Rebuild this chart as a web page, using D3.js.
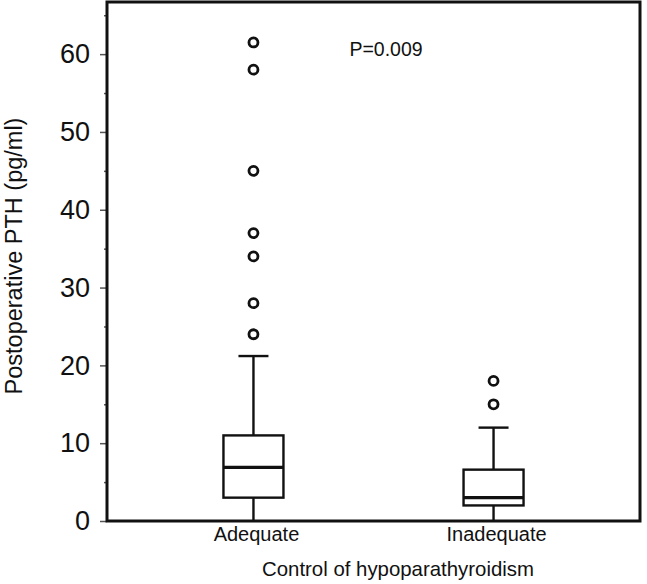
<!DOCTYPE html>
<html>
<head>
<meta charset="utf-8">
<script src="https://cdn.jsdelivr.net/npm/d3@7"></script>
<style>
  body { margin: 0; background: #fff; }
  text { font-family: "Liberation Sans", Arial, sans-serif; fill: #111; }
</style>
</head>
<body>
<div id="chart"></div>
<script>
const width = 647;
const height = 584;
const margin = { top: 2, right: 7, bottom: 63, left: 107 };

// values
const categories = ["Adequate", "Inadequate"];
const whiskerLow = [0, 0];
const q1 = [3.0, 2.0];
const median = [6.9, 3.0];
const q3 = [11.0, 6.6];
const whiskerHigh = [21.2, 12.0];
const outliers = [
    [61.5, 58, 45, 37, 34, 28, 24],
    [18, 15]
];
const majorTicks = [0, 10, 20, 30, 40, 50, 60];
const minorTicks = [5, 15, 25, 35, 45, 55, 65];

const boxes = categories.map((c, i) => ({
    cat: c, lo: whiskerLow[i], q1: q1[i], med: median[i], q3: q3[i], hi: whiskerHigh[i], out: outliers[i]
}));

const svg = d3.select("#chart")
    .append("svg")
    .attr("width", width)
    .attr("height", height);

const x0 = margin.left, x1 = width - margin.right;
const y0 = height - margin.bottom, y1 = margin.top;

const escalaX = d3.scalePoint()
    .domain(categories)
    .range([x0, x1])
    .padding(0.61);

const escalaY = d3.scaleLinear()
    .domain([0, 66.7])
    .range([y0, y1]);

// minor ticks
svg.append("g")
    .attr("transform", `translate(${x0},0)`)
    .call(d3.axisLeft(escalaY).tickValues(minorTicks).tickSize(3).tickFormat(""))
    .call(g => g.select(".domain").remove())
    .call(g => g.selectAll("line").attr("stroke", "#555").attr("stroke-width", 1.5));

// major ticks
svg.append("g")
    .attr("transform", `translate(${x0},0)`)
    .call(d3.axisLeft(escalaY).tickValues(majorTicks).tickSize(7).tickPadding(10))
    .call(g => g.select(".domain").remove())
    .call(g => g.selectAll("line").attr("stroke", "#555").attr("stroke-width", 1.5))
    .call(g => g.selectAll("text")
        .attr("font-size", 27)
        .attr("font-family", "Liberation Sans, Arial, sans-serif")
        .attr("fill", "#111"));

// frame
svg.append("rect")
    .attr("x", x0)
    .attr("y", y1)
    .attr("width", x1 - x0)
    .attr("height", y0 - y1)
    .attr("fill", "none")
    .attr("stroke", "#111")
    .attr("stroke-width", 3);

const boxW = 60;
const capW = 30;

const g = svg.append("g")
    .selectAll("g")
    .data(boxes)
    .join("g")
    .attr("transform", d => `translate(${escalaX(d.cat)},0)`);

// whiskers
g.append("line")
    .attr("y1", d => escalaY(d.q3))
    .attr("y2", d => escalaY(d.hi))
    .attr("stroke", "#111").attr("stroke-width", 2.4);
g.append("line")
    .attr("y1", d => escalaY(d.q1))
    .attr("y2", d => escalaY(d.lo))
    .attr("stroke", "#111").attr("stroke-width", 2.4);
g.append("line")
    .attr("x1", -capW / 2).attr("x2", capW / 2)
    .attr("y1", d => escalaY(d.hi))
    .attr("y2", d => escalaY(d.hi))
    .attr("stroke", "#111").attr("stroke-width", 2.4);

// box
g.append("rect")
    .attr("x", -boxW / 2)
    .attr("width", boxW)
    .attr("y", d => escalaY(d.q3))
    .attr("height", d => escalaY(d.q1) - escalaY(d.q3))
    .attr("fill", "#fff")
    .attr("stroke", "#111").attr("stroke-width", 2.4);

// median
g.append("line")
    .attr("x1", -boxW / 2).attr("x2", boxW / 2)
    .attr("y1", d => escalaY(d.med))
    .attr("y2", d => escalaY(d.med))
    .attr("stroke", "#111").attr("stroke-width", 3.2);

// outliers
g.selectAll("circle")
    .data(d => d.out)
    .join("circle")
    .attr("cx", 0)
    .attr("cy", v => escalaY(v))
    .attr("r", 4.5)
    .attr("fill", "#fff")
    .attr("stroke", "#111")
    .attr("stroke-width", 2.8);

// category labels
svg.append("g")
    .selectAll("text")
    .data(categories)
    .join("text")
    .attr("x", d => escalaX(d) + 3)
    .attr("y", 541)
    .attr("text-anchor", "middle")
    .attr("font-size", 20)
    .text(d => d);

svg.append("text")
    .attr("x", 398)
    .attr("y", 576)
    .attr("text-anchor", "middle")
    .attr("font-size", 20.4)
    .text("Control of hypoparathyroidism");

svg.append("text")
    .attr("transform", "translate(22,256) rotate(-90)")
    .attr("text-anchor", "middle")
    .attr("font-size", 23.5)
    .text("Postoperative PTH (pg/ml)");

svg.append("text")
    .attr("x", 386)
    .attr("y", 56)
    .attr("text-anchor", "middle")
    .attr("font-size", 19.5)
    .text("P=0.009");
</script>
</body>
</html>
